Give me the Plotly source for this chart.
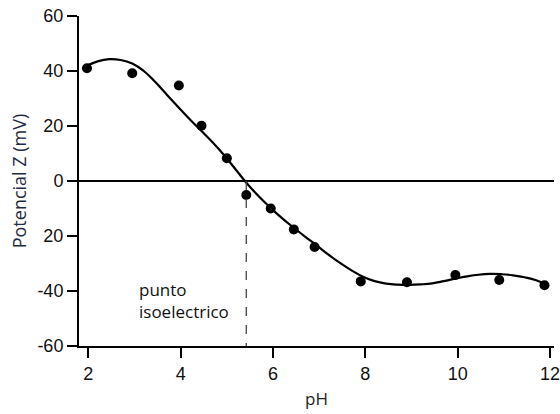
import plotly.graph_objects as go

# Measured points
ph_points = [1.97, 2.95, 3.96, 4.45, 5.0, 5.42, 5.95, 6.45, 6.9, 7.9, 8.9, 9.95, 10.9, 11.88]
z_points = [41.0, 39.2, 34.7, 20.1, 8.3, -5.1, -10.0, -17.6, -24.0, -36.5, -36.8, -34.2, -36.0, -37.9]

# Fitted curve
ph_curve = [1.95, 2.2, 2.45, 2.7, 2.95, 3.2, 3.45, 3.7, 3.95, 4.2, 4.45, 4.7, 4.95, 5.2, 5.45,
            5.7, 5.95, 6.2, 6.45, 6.7, 6.95, 7.2, 7.45, 7.7, 7.95, 8.2, 8.45, 8.7, 8.95, 9.2,
            9.45, 9.7, 9.95, 10.2, 10.45, 10.7, 10.95, 11.2, 11.45, 11.7, 11.9]
z_curve = [41.8, 43.5, 44.3, 44.0, 42.7, 40.0, 36.0, 31.4, 26.8, 22.4, 18.2, 13.9, 9.2, 4.0, -1.2,
           -5.7, -9.8, -13.6, -17.0, -20.3, -23.5, -26.8, -29.8, -32.5, -34.8, -36.4, -37.3, -37.7, -37.8, -37.6,
           -37.2, -36.4, -35.5, -34.7, -34.1, -33.8, -33.9, -34.3, -35.0, -36.1, -37.6]

pI = 5.42
y_ticks = [60, 40, 20, 0, -20, -40, -60]
y_tick_labels = ["60", "40", "20", "0", "20", "-40", "-60"]
x_ticks = [2, 4, 6, 8, 10, 12]

fig = go.Figure()

# zero line
fig.add_shape(type="line", xref="paper", x0=0, x1=1, yref="y", y0=0, y1=0,
              line=dict(color="black", width=2))
# isoelectric dashed line
fig.add_shape(type="line", xref="x", x0=pI, x1=pI, yref="y", y0=0, y1=-60,
              line=dict(color="#444444", width=1.3, dash="dash"))

fig.add_trace(go.Scatter(x=ph_curve, y=z_curve, mode="lines",
                         line=dict(color="black", width=2.2, shape="spline", smoothing=1.3),
                         showlegend=False, hoverinfo="skip"))
fig.add_trace(go.Scatter(x=ph_points, y=z_points, mode="markers",
                         marker=dict(color="black", size=10),
                         showlegend=False))

fig.add_annotation(x=3.05, y=-43.3, xref="x", yref="y",
                   text="punto<br>isoelectrico", showarrow=False,
                   xanchor="left", yanchor="middle", align="left",
                   font=dict(family="Open Sans", size=17, color="#111111"))

fig.update_layout(
    width=560, height=414,
    margin=dict(l=79, r=0, t=16, b=68),
    paper_bgcolor="white", plot_bgcolor="white",
    font=dict(family="Liberation Sans, Arial", size=18, color="#111111"),
    xaxis=dict(range=[1.797, 12.086], tickvals=x_ticks, ticks="outside",
               ticklen=10, tickwidth=2, tickcolor="black",
               showline=True, linecolor="black", linewidth=2,
               showgrid=False, zeroline=False, ticklabeloverflow="allow",
               title=dict(text="pH", standoff=11,
                          font=dict(family="Open Sans", size=17, color="#222222"))),
    yaxis=dict(range=[-60, 60], tickvals=y_ticks, ticktext=y_tick_labels,
               ticks="outside", ticklen=10, tickwidth=2, tickcolor="black",
               showline=True, linecolor="black", linewidth=2,
               showgrid=False, zeroline=False,
               title=dict(text="Potencial Z (mV)", standoff=6,
                          font=dict(family="Open Sans", size=18, color="#1f2a44"))),
)

fig.write_html("out.html")
